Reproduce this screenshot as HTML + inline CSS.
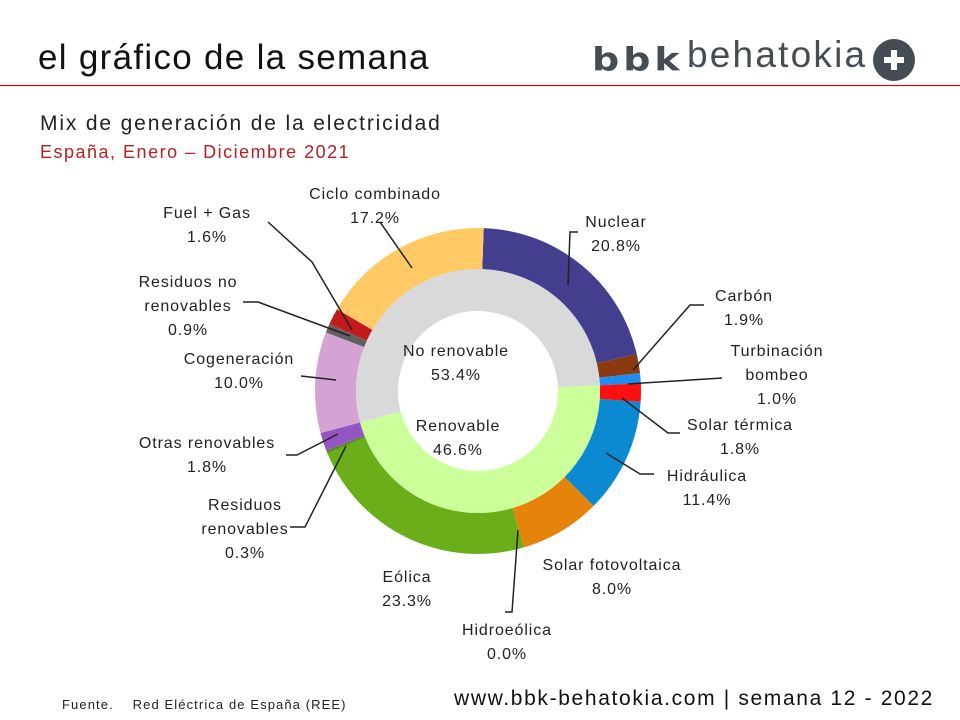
<!DOCTYPE html>
<html><head><meta charset="utf-8"><style>
body{margin:0;background:#fff}
#w{position:relative;width:960px;height:720px;overflow:hidden;font-family:"Liberation Sans","DejaVu Sans",sans-serif}
.t{position:absolute;white-space:nowrap}
</style></head><body><div id="w">
<div class="t" style="left:38px;top:38px;font-size:35px;color:#111;letter-spacing:1.3px">el gráfico de la semana</div>
<div class="t" style="left:592px;top:36px;font-size:38px;color:#454c53;font-family:'DejaVu Sans';font-weight:900;letter-spacing:4px;transform:scaleY(0.85);transform-origin:0 70%">bbk</div>
<div class="t" style="left:687px;top:34px;font-size:37px;color:#454c53;letter-spacing:2.2px">behatokia</div>
<svg style="position:absolute;left:0;top:0" width="960" height="720">
<line x1="0" y1="85.5" x2="960" y2="85.5" stroke="#a01e1e" stroke-width="1.2"/>
<circle cx="894" cy="60" r="21" fill="#454c53"/>
<path d="M894 50v20M884 60h20" stroke="#fff" stroke-width="6"/>
<g id="ch"></g>
<g stroke="#222" stroke-width="1.5" fill="none">
<polyline points="268,222 312,262 352,330"/>
<polyline points="380,222 412,268"/>
<polyline points="578,232 570,232 568,285"/>
<polyline points="704,305 690,305 633,370"/>
<polyline points="722,378 628,384"/>
<polyline points="680,433 668,433 622,398"/>
<polyline points="654,474 640,474 606,453"/>
<polyline points="243,302 258,302 350,336"/>
<polyline points="301,376 336,380"/>
<polyline points="286,455 297,455 338,434"/>
<polyline points="290,527 305,527 346,446"/>
<polyline points="505,612 512,612 518,530"/>
</g>
</svg>
<div class="t" style="left:40px;top:112px;font-size:21px;color:#222;letter-spacing:1.85px">Mix de generación de la electricidad</div>
<div class="t" style="left:40px;top:142px;font-size:18px;color:#b22222;letter-spacing:1.5px">España, Enero – Diciembre 2021</div>
<div id="lb" style="font-size:16px;color:#222;letter-spacing:0.9px"></div>
<div class="t" style="left:62px;top:697px;font-size:13px;color:#222;letter-spacing:1.1px">Fuente.&nbsp;&nbsp;&nbsp; Red Eléctrica de España (REE)</div>
<div class="t" style="left:454px;top:687px;font-size:21px;color:#111;letter-spacing:1.65px">www.bbk-behatokia.com | semana 12 - 2022</div>
</div>
<script>
var cx=478,cy=391;
function arc(r0,r1,a0,a1,c){
var A=a0*2*Math.PI/100+0.035,B=a1*2*Math.PI/100+0.035,l=(a1-a0)>50?1:0;
var p=(r,a)=>(cx+r*Math.sin(a)).toFixed(2)+" "+(cy-r*Math.cos(a)).toFixed(2);
return '<path fill="'+c+'" d="M'+p(r1,A)+'A'+r1+' '+r1+' 0 '+l+' 1 '+p(r1,B)+'L'+p(r0,B)+'A'+r0+' '+r0+' 0 '+l+' 0 '+p(r0,A)+'Z"/>';}
var d=[[20.8,"#433f8e"],[1.9,"#8b3a0f"],[1.0,"#1f8ef0"],[1.8,"#ff1010"],[11.4,"#0b8ad2"],[8.0,"#e5830a"],[23.3,"#6aae1a"],[0.3,"#5b8a2a"],[1.8,"#9354c4"],[10.0,"#d5a3d3"],[0.9,"#606060"],[1.6,"#c41a1e"],[17.2,"#ffc966"]];
var s="",c=0;d.forEach(x=>{s+=arc(122,163,c,c+x[0],x[1]);c+=x[0];});
s+=arc(80,122,0,23.7,"#d9d9d9")+arc(80,122,23.7,70.3,"#ccff99")+arc(80,122,70.3,100,"#d9d9d9");
document.getElementById("ch").innerHTML=s;
var L=[[375,183,"Ciclo combinado<br>17.2%"],[207,202,"Fuel + Gas<br>1.6%"],[616,211,"Nuclear<br>20.8%"],[188,271,"Residuos no<br>renovables<br>0.9%"],[744,285,"Carbón<br>1.9%"],[239,348,"Cogeneración<br>10.0%"],[777,340,"Turbinación<br>bombeo<br>1.0%"],[456,340,"No renovable<br>53.4%"],[458,415,"Renovable<br>46.6%"],[207,432,"Otras renovables<br>1.8%"],[740,414,"Solar térmica<br>1.8%"],[707,465,"Hidráulica<br>11.4%"],[245,494,"Residuos<br>renovables<br>0.3%"],[612,554,"Solar fotovoltaica<br>8.0%"],[407,566,"Eólica<br>23.3%"],[507,619,"Hidroeólica<br>0.0%"]];
document.getElementById("lb").innerHTML=L.map(x=>'<div class="t" style="left:'+x[0]+'px;top:'+x[1]+'px;transform:translateX(-50%);text-align:center;line-height:24px">'+x[2]+'</div>').join("");
</script>
</body></html>
